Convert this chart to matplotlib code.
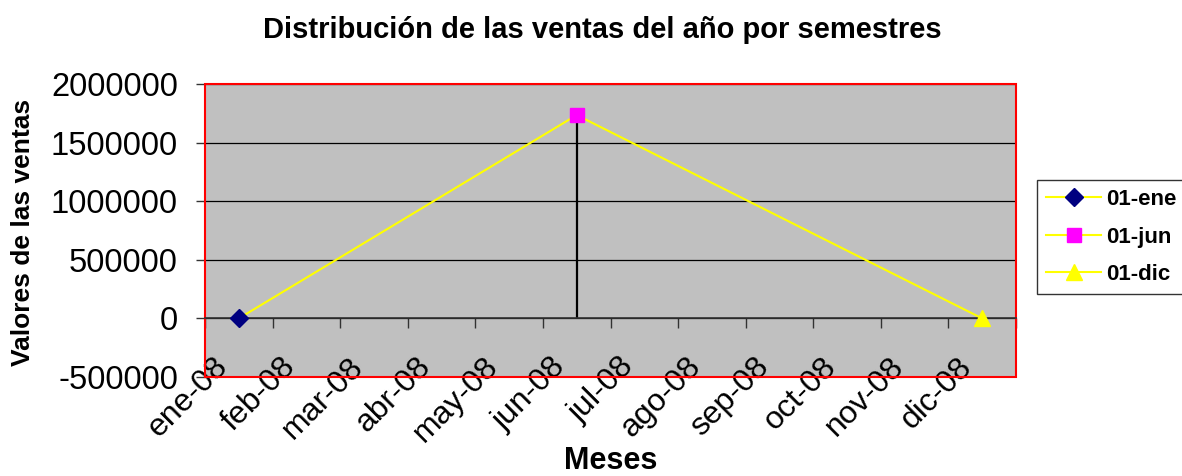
import numpy as np
import matplotlib
matplotlib.use('Agg')
import matplotlib.pyplot as plt
import matplotlib.transforms as mtransforms
from matplotlib.patches import Rectangle

plt.rcParams['font.family'] = ['Liberation Sans', 'DejaVu Sans']

# data
months = ['ene-08', 'feb-08', 'mar-08', 'abr-08', 'may-08', 'jun-08',
          'jul-08', 'ago-08', 'sep-08', 'oct-08', 'nov-08', 'dic-08']
series_names = ['01-ene', '01-jun', '01-dic']
series_month = [0, 5, 11]          # index in months
series_values = [0, 1735000, 0]
series_colors = ['#000080', '#FF00FF', '#FFFF00']
series_markers = ['D', 's', '^']
y_ticks = [-500000, 0, 500000, 1000000, 1500000, 2000000]

fig = plt.figure(figsize=(11.82, 4.76), dpi=100)
ax = fig.add_axes([205 / 1182, 1 - 377 / 476, 811 / 1182, 293 / 476])
ax.set_facecolor('#C0C0C0')

# x axis sits on the zero line (do this first, it resets the ticks)
ax.spines['bottom'].set_position(('data', 0))
ax.spines['bottom'].set_color('#333333')
ax.spines['bottom'].set_linewidth(1.2)
for s in ['top', 'right', 'left']:
    ax.spines[s].set_visible(False)

xpos = np.array(series_month) + 0.5

# connecting line (yellow) and drop line for the peak
ax.plot(xpos, series_values, color='#FFFF00', lw=1.5, zorder=3)
ax.vlines(xpos[1], 0, series_values[1], color='black', lw=1.6, zorder=2)

handles = []
for x, v, c, m, name in zip(xpos, series_values, series_colors, series_markers, series_names):
    ms = 10 if m == 's' else (9 if m == 'D' else 12)
    ax.plot([x], [v], linestyle='none', marker=m, color=c, markersize=ms, zorder=4)
    h, = ax.plot([], [], color='#FFFF00', lw=1.5, marker=m, markerfacecolor=c,
                 markeredgecolor=c, markersize=ms, label=name)
    handles.append(h)

ax.set_xlim(0, 12)
ax.set_ylim(-500000, 2000000)
ax.set_yticks(y_ticks)
ax.set_yticklabels([str(t) for t in y_ticks], fontsize=23.5)
ax.yaxis.grid(True, color='black', lw=0.9)
ax.set_axisbelow(True)

ax.tick_params(axis='x', direction='out', length=7, width=1, color='#333333', pad=17)
ax.tick_params(axis='y', direction='out', length=6.5, width=1, color='#333333', pad=13)

ax.set_xticks(range(13))
ax.set_xticklabels(months + [''], fontsize=23, rotation=45, ha='right', va='top',
                   rotation_mode='anchor')
offset = mtransforms.ScaledTranslation(8 / 100, 0, fig.dpi_scale_trans)
for lab in ax.get_xticklabels():
    lab.set_transform(lab.get_transform() + offset)

ax.add_patch(Rectangle((0, 0), 1, 1, transform=ax.transAxes, fill=False,
                       edgecolor='red', lw=1.5, clip_on=False, zorder=1.5))

fig.text(602 / 1182, 1 - 30 / 476, 'Distribución de las ventas del año por semestres',
         ha='center', va='center', fontsize=21, fontweight='bold')
fig.text(23 / 1182, 1 - 232 / 476, 'Valores de las ventas', rotation=90,
         ha='center', va='center', fontsize=19, fontweight='bold')
fig.text(611 / 1182, 1 - 461 / 476, 'Meses', ha='center', va='center',
         fontsize=22, fontweight='bold')

leg = fig.legend(handles=handles, loc='upper left',
                 bbox_to_anchor=(1037 / 1182, 1 - 180 / 476),
                 prop={'size': 16, 'weight': 'bold'}, frameon=True, fancybox=False,
                 edgecolor='black', handlelength=2.5, handletextpad=0.2,
                 labelspacing=0.75, borderpad=0.4, borderaxespad=0)
leg.get_frame().set_linewidth(1)

fig.savefig('out.png', dpi=100)
